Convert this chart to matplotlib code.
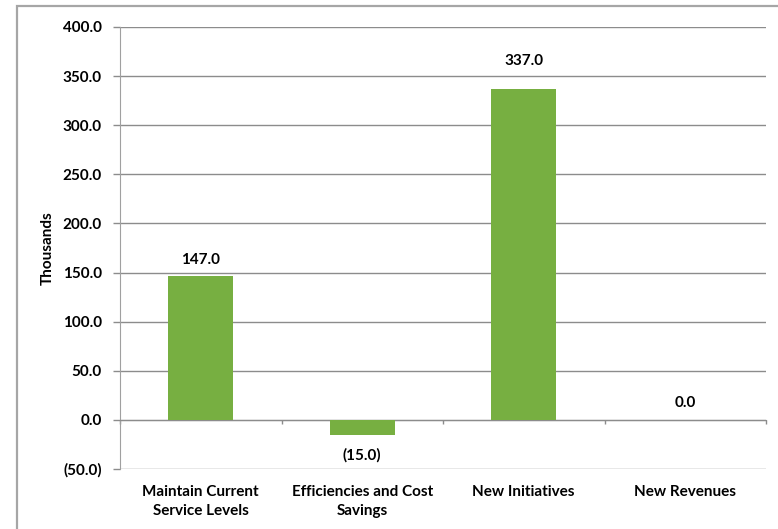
import matplotlib; matplotlib.use("Agg")
import matplotlib.pyplot as plt
from matplotlib.patches import Rectangle
from matplotlib.transforms import blended_transform_factory

categories = ["Maintain Current\nService Levels", "Efficiencies and Cost\nSavings",
              "New Initiatives", "New Revenues"]
values = [147.0, -15.0, 337.0, 0.0]
yticks = [-50, 0, 50, 100, 150, 200, 250, 300, 350, 400]

BAR_COLOR = "#77AF41"
GRID = "#8c8c8c"
FS = 11
plt.rcParams["font.family"] = ["Lato", "DejaVu Sans"]


def fmt(v):
    return f"({abs(v):.1f})" if v < 0 else f"{v:.1f}"


fig = plt.figure(figsize=(7.78, 5.29), dpi=100)
# outer chart frame (only top and left edges visible in the crop)
fig.patches.append(Rectangle((16.5 / 778, -0.1), 1.2, 1.1 - 6.5 / 529,
                             transform=fig.transFigure, fill=False,
                             edgecolor="#a6a6a6", lw=1.6))
ax = fig.add_axes([120 / 778, 1 - 469 / 529, 646 / 778, 442 / 529])

x = list(range(len(categories)))
ax.bar(x, values, width=0.4, color=BAR_COLOR, zorder=3)

ax.set_xlim(-0.5, 3.5)
ax.set_ylim(-50, 400)
ax.set_yticks(yticks)
ax.set_yticklabels([fmt(v) for v in yticks], fontsize=FS, fontweight="bold")
ax.yaxis.grid(True, color=GRID, lw=1, zorder=0)
ax.tick_params(axis="y", length=5, width=1, color=GRID, pad=8)

for s in ["top", "right"]:
    ax.spines[s].set_visible(False)
ax.spines["left"].set_color("#a0a0a0")
ax.spines["bottom"].set_position(("data", 0))
ax.spines["bottom"].set_color(GRID)
ax.set_xticks([-0.5, 0.5, 1.5, 2.5, 3.5])
ax.set_xticklabels([])
ax.tick_params(axis="x", length=3, width=1, color=GRID, direction="out")

trans = blended_transform_factory(ax.transData, ax.transAxes)
for xi, lab in zip(x, categories):
    ax.annotate(lab, (xi, 0), xycoords=trans, xytext=(0, -11.5), textcoords="offset points",
                ha="center", va="top", fontsize=FS, fontweight="bold", linespacing=1.5)

offsets = [11, -15, 20, 12]
for xi, v, off in zip(x, values, offsets):
    ax.annotate(fmt(v), (xi, v), xytext=(0, off), textcoords="offset points",
                ha="center", va="center", fontsize=FS, fontweight="bold")

ax.set_ylabel("Thousands", fontsize=FS, fontweight="bold", labelpad=6)

plt.savefig("out.png", dpi=100)
